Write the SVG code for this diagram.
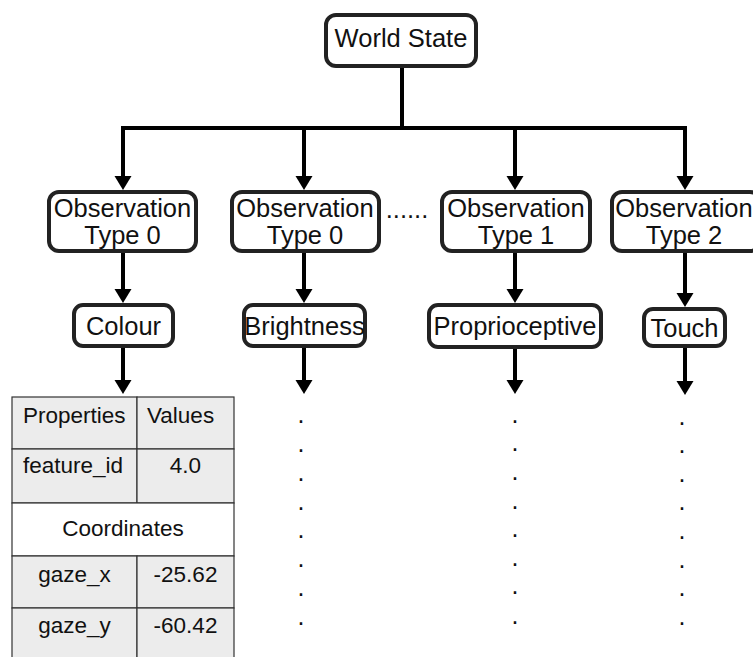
<svg xmlns="http://www.w3.org/2000/svg" width="753" height="657" viewBox="0 0 753 657">
  <style>
    .box { fill: #ffffff; stroke: #222222; stroke-width: 4; }
    .lbl { font-family: "Liberation Sans", Arial, sans-serif; font-size: 25.5px; fill: #111111; text-anchor: middle; }
    .wire { fill: none; stroke: #000000; stroke-width: 4; }
    .cell { fill: #ececec; stroke: #333333; stroke-width: 1.2; }
    .cellw { fill: #ffffff; stroke: #333333; stroke-width: 1.2; }
    .tt { font-family: "Liberation Sans", Arial, sans-serif; font-size: 22.5px; fill: #111111; }
    .dot { font-family: "Liberation Sans", Arial, sans-serif; font-size: 25px; fill: #111111; text-anchor: middle; }
  </style>
  <defs>
    <!-- downward arrowhead, tip at the origin -->
    <path id="tip" d="M-8.5,-14 L8.5,-14 L0,0 Z" fill="#000000"/>
  </defs>
  <rect width="753" height="657" fill="#ffffff"/>

  <g id="connectors">
    <!-- trunk and bus -->
    <path class="wire" d="M402,66 V128"/>
    <path class="wire" d="M121,128 H687"/>
    <!-- bus to observation types -->
    <line class="wire" x1="123" y1="128" x2="123" y2="177"/>
    <use href="#tip" x="123" y="190"/>
    <line class="wire" x1="304" y1="128" x2="304" y2="177"/>
    <use href="#tip" x="304" y="190"/>
    <line class="wire" x1="515" y1="128" x2="515" y2="177"/>
    <use href="#tip" x="515" y="190"/>
    <line class="wire" x1="685" y1="128" x2="685" y2="177"/>
    <use href="#tip" x="685" y="190"/>
    <!-- observation types to features -->
    <line class="wire" x1="123" y1="252" x2="123" y2="290"/>
    <use href="#tip" x="123" y="303"/>
    <line class="wire" x1="304" y1="252" x2="304" y2="290"/>
    <use href="#tip" x="304" y="303"/>
    <line class="wire" x1="515" y1="252" x2="515" y2="290"/>
    <use href="#tip" x="515" y="303"/>
    <line class="wire" x1="685" y1="252" x2="685" y2="294"/>
    <use href="#tip" x="685" y="307"/>
    <!-- features downward -->
    <line class="wire" x1="123" y1="347" x2="123" y2="381"/>
    <use href="#tip" x="123" y="394"/>
    <line class="wire" x1="304" y1="347" x2="304" y2="381"/>
    <use href="#tip" x="304" y="394"/>
    <line class="wire" x1="515" y1="347" x2="515" y2="381"/>
    <use href="#tip" x="515" y="394"/>
    <line class="wire" x1="685" y1="347" x2="685" y2="382"/>
    <use href="#tip" x="685" y="395"/>
  </g>

  <g id="world-state">
    <rect class="box" x="326" y="15" width="150" height="51" rx="10"/>
    <text class="lbl" x="401" y="47">World State</text>
  </g>

  <g id="obs-a">
    <rect class="box" x="49" y="192" width="147" height="59" rx="10"/>
    <text class="lbl" x="122.5" y="217">Observation</text>
    <text class="lbl" x="122.5" y="244">Type 0</text>
  </g>
  <g id="obs-b">
    <rect class="box" x="232" y="192" width="147" height="59" rx="10"/>
    <text class="lbl" x="305" y="217">Observation</text>
    <text class="lbl" x="305" y="244">Type 0</text>
  </g>
  <text class="lbl" x="407" y="218">......</text>
  <g id="obs-c">
    <rect class="box" x="442" y="192" width="148" height="59" rx="10"/>
    <text class="lbl" x="516" y="217">Observation</text>
    <text class="lbl" x="516" y="244">Type 1</text>
  </g>
  <g id="obs-d">
    <rect class="box" x="612" y="192" width="148" height="59" rx="10"/>
    <text class="lbl" x="684" y="217">Observation</text>
    <text class="lbl" x="684" y="244">Type 2</text>
  </g>

  <g id="colour">
    <rect class="box" x="74" y="305" width="99" height="41" rx="9"/>
    <text class="lbl" x="123.5" y="335">Colour</text>
  </g>
  <g id="brightness">
    <rect class="box" x="244" y="305" width="121" height="41" rx="9"/>
    <text class="lbl" x="304.5" y="335">Brightness</text>
  </g>
  <g id="proprioceptive">
    <rect class="box" x="429" y="305" width="172" height="42" rx="9"/>
    <text class="lbl" x="515" y="335">Proprioceptive</text>
  </g>
  <g id="touch">
    <rect class="box" x="644" y="309" width="81" height="37" rx="9"/>
    <text class="lbl" x="684.5" y="337">Touch</text>
  </g>

  <g id="feature-table">
    <rect class="cell" x="12" y="397" width="125" height="52"/>
    <rect class="cell" x="137" y="397" width="97" height="52"/>
    <rect class="cell" x="12" y="449" width="125" height="54"/>
    <rect class="cell" x="137" y="449" width="97" height="54"/>
    <rect class="cellw" x="12" y="503" width="222" height="53"/>
    <rect class="cell" x="12" y="556" width="125" height="52"/>
    <rect class="cell" x="137" y="556" width="97" height="52"/>
    <rect class="cell" x="12" y="608" width="125" height="60"/>
    <rect class="cell" x="137" y="608" width="97" height="60"/>
    <text class="tt" x="23" y="423">Properties</text>
    <text class="tt" x="147" y="423">Values</text>
    <text class="tt" x="23" y="473">feature_id</text>
    <text class="tt" x="185.5" y="473" text-anchor="middle">4.0</text>
    <text class="tt" x="123" y="536" text-anchor="middle">Coordinates</text>
    <text class="tt" x="74.5" y="582" text-anchor="middle">gaze_x</text>
    <text class="tt" x="185.5" y="582" text-anchor="middle">-25.62</text>
    <text class="tt" x="74.5" y="633" text-anchor="middle">gaze_y</text>
    <text class="tt" x="185.5" y="633" text-anchor="middle">-60.42</text>
  </g>

  <g id="ellipsis-columns">
    <text class="dot" x="301" y="423">.</text>
    <text class="dot" x="301" y="452">.</text>
    <text class="dot" x="301" y="481">.</text>
    <text class="dot" x="301" y="510">.</text>
    <text class="dot" x="301" y="538">.</text>
    <text class="dot" x="301" y="567">.</text>
    <text class="dot" x="301" y="596">.</text>
    <text class="dot" x="301" y="625">.</text>
    <text class="dot" x="515" y="423">.</text>
    <text class="dot" x="515" y="451">.</text>
    <text class="dot" x="515" y="480">.</text>
    <text class="dot" x="515" y="509">.</text>
    <text class="dot" x="515" y="537">.</text>
    <text class="dot" x="515" y="566">.</text>
    <text class="dot" x="515" y="594">.</text>
    <text class="dot" x="515" y="624">.</text>
    <text class="dot" x="682" y="425">.</text>
    <text class="dot" x="682" y="453">.</text>
    <text class="dot" x="682" y="482">.</text>
    <text class="dot" x="682" y="510">.</text>
    <text class="dot" x="682" y="539">.</text>
    <text class="dot" x="682" y="568">.</text>
    <text class="dot" x="682" y="596">.</text>
    <text class="dot" x="682" y="625">.</text>
  </g>
</svg>
